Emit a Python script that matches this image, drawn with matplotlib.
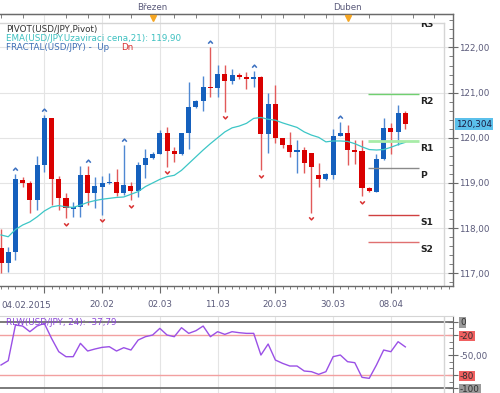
import numpy as np
import matplotlib
matplotlib.use("Agg")
import matplotlib.pyplot as plt
from matplotlib.ticker import MultipleLocator
from matplotlib.path import Path
from matplotlib.transforms import Bbox, TransformedBbox, blended_transform_factory

# ---------------- data ----------------
opens = [117.56, 117.22, 117.48, 119.06, 119.00, 118.62, 119.40, 120.44, 119.09, 118.67,
         118.43, 118.47, 119.17, 118.77, 118.92, 118.99, 119.03, 118.77, 118.94, 118.83,
         119.40, 119.56, 119.65, 120.10, 119.71, 119.64, 120.10, 120.69, 120.81, 121.13,
         121.11, 121.41, 121.26, 121.40, 121.34, 121.31, 121.35, 120.08, 120.74, 120.00,
         119.85, 119.69, 119.73, 119.67, 119.17, 119.09, 119.18, 120.04, 120.10, 119.74,
         119.70, 118.90, 118.81, 119.52, 120.21, 120.12, 120.54]
highs = [117.98, 117.59, 119.20, 119.14, 119.05, 119.60, 120.50, 120.44, 119.16, 118.77,
         118.58, 119.37, 119.37, 119.14, 119.15, 119.21, 119.32, 119.84, 119.03, 119.47,
         119.76, 119.68, 120.17, 120.23, 119.80, 120.10, 121.24, 120.83, 121.37, 122.01,
         121.61, 121.62, 121.53, 121.44, 121.46, 121.48, 121.36, 121.00, 121.17, 120.00,
         120.13, 119.95, 119.80, 119.67, 119.45, 119.22, 120.20, 120.35, 120.28, 119.95,
         119.95, 118.92, 119.65, 120.43, 120.32, 120.72, 120.59]
lows = [117.00, 117.02, 117.30, 118.92, 118.34, 118.40, 119.25, 118.51, 118.40, 118.22,
        118.24, 118.24, 118.51, 118.44, 118.29, 118.97, 118.72, 118.73, 118.62, 118.70,
        119.10, 119.54, 119.64, 119.36, 119.47, 119.62, 119.76, 120.67, 120.60, 120.91,
        120.91, 120.58, 121.20, 121.31, 121.09, 121.12, 119.28, 119.67, 119.89, 119.77,
        119.58, 119.21, 119.21, 118.34, 118.92, 119.07, 119.09, 120.04, 119.40, 119.43,
        118.71, 118.81, 118.80, 119.51, 119.64, 119.84, 120.20]
closes = [117.22, 117.48, 119.08, 118.99, 118.62, 119.40, 120.44, 119.09, 118.66, 118.44,
          118.46, 119.17, 118.77, 118.93, 118.99, 119.03, 118.78, 118.95, 118.83, 119.40,
          119.56, 119.65, 120.10, 119.71, 119.64, 120.10, 120.69, 120.81, 121.13, 121.10,
          121.41, 121.26, 121.39, 121.35, 121.31, 121.34, 120.08, 120.74, 119.99, 119.84,
          119.69, 119.73, 119.45, 119.36, 119.09, 119.20, 120.05, 120.10, 119.73, 119.69,
          118.90, 118.83, 119.52, 120.21, 120.12, 120.54, 120.30]
ema21 = [117.85, 117.81, 117.97, 118.07, 118.14, 118.25, 118.38, 118.47, 118.50, 118.47,
         118.46, 118.51, 118.57, 118.61, 118.64, 118.66, 118.68, 118.69, 118.75, 118.81,
         118.92, 119.00, 119.08, 119.14, 119.17, 119.28, 119.43, 119.58, 119.73, 119.87,
         120.00, 120.13, 120.22, 120.26, 120.32, 120.43, 120.45, 120.41, 120.39, 120.33,
         120.28, 120.23, 120.13, 120.06, 120.01, 119.91, 119.93, 119.93, 119.92, 119.87,
         119.80, 119.74, 119.73, 119.74, 119.79, 119.85, 119.90]
williams_r = [-65, -58.5, -5, -6.5, -15, -6.5, -2.5, -25, -45, -52.5,
              -52.5, -32.5, -44, -41, -38.5, -37.5, -44, -39, -42.5, -27.5,
              -22.5, -20, -10, -20, -22.5, -9, -17.5, -13.5, -6.5, -22.5,
              -15, -19, -15, -16.5, -17.5, -17.5, -50, -33.5, -57.5, -62.5,
              -66.5, -66.5, -74, -75, -79, -75, -52.5, -50, -60, -61.5,
              -83.5, -85, -65, -42.5, -45, -30, -37.8]
fractal_up = [2, 6, 12, 17, 29, 35, 47]
fractal_dn = [9, 14, 18, 23, 31, 36, 43, 50]

pivot_names = ["R3", "R2", "R1", "P", "S1", "S2"]
pivot_values = [122.68, 120.98, 119.93, 119.33, 118.29, 117.69]
pivot_colors = ["#70d070", "#70d070", "#a8eca8", "#8a8a8a", "#d04040", "#e07070"]
pivot_widths = [1.0, 1.0, 2.0, 1.0, 1.0, 1.0]

date_ticks = [6, 14, 22, 30, 38, 46, 54]
date_labels = ["", "20.02", "02.03", "11.03", "20.03", "30.03", "08.04"]
first_date = "04.02.2015"
month_pos = [21, 48]
month_labels = ["Březen", "Duben"]
price_ticks = [117, 118, 119, 120, 121, 122]
price_labels = ["117,00", "118,00", "119,00", "120,00", "121,00", "122,00"]
wr_ticks = [0, -20, -50, -80, -100]
wr_labels = ["0", "-20", "-50,00", "-80", "-100"]
last_price = 120.304

# ---------------- figure ----------------
W, H = 500, 393
fig = plt.figure(figsize=(W / 100, H / 100), dpi=100)
fig.patch.set_facecolor("white")

AXC = "#6a6a6a"
LBLC = "#5a5a7a"
FS = 6.3
xlim = (-1 / 7.22, 452 / 7.22)

ax = fig.add_axes([0, 1 - 286 / H, 453 / W, 272 / H])
ax.set_xlim(*xlim)
ax.set_ylim(116.72, 122.74)
ax.spines["left"].set_visible(False)
for s in ["top", "right", "bottom"]:
    ax.spines[s].set_color(AXC)
    ax.spines[s].set_linewidth(1.0)

ax.yaxis.tick_right()
ax.set_yticks(price_ticks)
ax.set_yticklabels(price_labels)
ax.yaxis.set_minor_locator(MultipleLocator(0.2))
ax.tick_params(axis="y", which="major", direction="inout", length=7, width=0.8,
               color=AXC, labelsize=FS, labelcolor=LBLC, pad=1)
ax.tick_params(axis="y", which="minor", direction="in", length=3, width=0.6, color=AXC)
ax.set_xticks(date_ticks)
ax.set_xticklabels(date_labels)
ax.xaxis.set_minor_locator(MultipleLocator(1))
ax.tick_params(axis="x", which="major", direction="out", length=5, width=0.8,
               color=AXC, labelsize=FS, labelcolor=LBLC, pad=5)
ax.tick_params(axis="x", which="minor", direction="out", length=2.5, width=0.6, color=AXC)
ax.grid(True, which="major", color="#e4e4e4", lw=0.8, zorder=0)
ax.set_axisbelow(True)

# top axis
sec = ax.secondary_xaxis("top")
sec.set_xticks(np.arange(0, 63, 3))
sec.set_xticklabels([])
sec.tick_params(direction="in", length=3, width=0.6, color=AXC)
sec.spines["top"].set_color(AXC)
bt = blended_transform_factory(ax.transData, ax.transAxes)
for p, lab in zip(month_pos, month_labels):
    ax.text(p, (286 - 7) / 272, lab, transform=bt, ha="center", va="center",
            fontsize=FS, color=LBLC, clip_on=False)
ax.plot(month_pos, [0.987] * len(month_pos), transform=bt, ls="none", marker="v",
        color="#f5a623", markersize=5, clip_on=False, zorder=6)

# inner frame
fx, fy = 444 / 453, (286 - 23) / 272
ax.plot([fx, fx], [0, fy], transform=ax.transAxes, color="#d5d5d5", lw=1, zorder=1)
ax.plot([0, fx], [fy, fy], transform=ax.transAxes, color="#d5d5d5", lw=1, zorder=1)
clipbox = TransformedBbox(Bbox([[0, 0], [fx, fy]]), ax.transAxes)

# candles
k = np.arange(len(closes))
o = np.array(opens); c = np.array(closes)
up = c >= o
body_blue, body_red = "#1560bd", "#d90000"
wick_blue, wick_red = "#4f88d2", "#e25a5a"
ax.vlines(k[up], np.array(lows)[up], np.array(highs)[up], color=wick_blue, lw=1, zorder=2)
ax.vlines(k[~up], np.array(lows)[~up], np.array(highs)[~up], color=wick_red, lw=1, zorder=2)
ax.bar(k[up], (c - o)[up], bottom=o[up], width=0.7, color=body_blue, lw=0, zorder=3)
ax.bar(k[~up], (c - o)[~up], bottom=o[~up], width=0.7, color=body_red, lw=0, zorder=3)

# EMA
ax.plot(k, ema21, color="#3cc6c6", lw=0.9, zorder=4)

# fractals
up_m = Path([(-1, -0.5), (0, 0.6), (1, -0.5)], [Path.MOVETO, Path.LINETO, Path.LINETO])
dn_m = Path([(-1, 0.5), (0, -0.6), (1, 0.5)], [Path.MOVETO, Path.LINETO, Path.LINETO])
ax.plot(fractal_up, [highs[i] + 0.11 for i in fractal_up], ls="none", marker=up_m,
        markersize=3.3, mfc="none", mec="#3a6fc0", mew=1.1, zorder=5)
ax.plot(fractal_dn, [lows[i] - 0.12 for i in fractal_dn], ls="none", marker=dn_m,
        markersize=3.3, mfc="none", mec="#d83030", mew=1.1, zorder=5)

# pivots
x0p, x1p = (368 - 1) / 7.22, (419 - 1) / 7.22
for name, val, col, lw in zip(pivot_names, pivot_values, pivot_colors, pivot_widths):
    ln = ax.hlines(val, x0p, x1p, color=col, lw=lw, zorder=4)
    ln.set_clip_box(clipbox)
    t = ax.text((420 - 1) / 7.22, val - 0.07, name, ha="left", va="top", fontsize=6.6,
                fontweight="bold", color="#222222", zorder=6, clip_on=True)
    t.set_clip_box(clipbox)

# legend texts
ax.text(6 / 453, (286 - 29) / 272, "PIVOT(USD/JPY,Pivot)", transform=ax.transAxes,
        fontsize=FS, color="#333333", va="center", ha="left")
ax.text(6 / 453, (286 - 38.5) / 272, "EMA(USD/JPY.Uzaviraci cena,21): 119,90",
        transform=ax.transAxes, fontsize=FS, color="#3cc0c0", va="center", ha="left")
ax.text(6 / 453, (286 - 48) / 272, "FRACTAL(USD/JPY) -  Up", transform=ax.transAxes,
        fontsize=FS, color="#3f6fb5", va="center", ha="left")
ax.text(121 / 453, (286 - 48) / 272, "Dn", transform=ax.transAxes,
        fontsize=FS, color="#d83030", va="center", ha="left")

# first date label and price box
ax.text(0.002, -(305 - 286) / 272, first_date, transform=ax.transAxes, ha="left",
        va="center", fontsize=FS, color=LBLC, clip_on=False)
rt = blended_transform_factory(ax.transAxes, ax.transData)
ax.text(456 / 453, last_price, "120,304", transform=rt, ha="left", va="center",
        fontsize=FS, color="#1a1a40", clip_on=False, zorder=7,
        bbox=dict(boxstyle="square,pad=0.15", fc="#5bc0eb", ec="none"))

# ---------------- Williams %R panel ----------------
ax2 = fig.add_axes([0, 0, 453 / W, 77 / H])
ax2.set_xlim(*xlim)
ax2.set_ylim(-107, 8.56)
ax2.spines["left"].set_visible(False)
ax2.spines["bottom"].set_visible(False)
ax2.spines["top"].set_color("#d5d5d5")
ax2.spines["right"].set_color(AXC)
ax2.set_xticks(date_ticks)
ax2.tick_params(axis="x", which="both", bottom=False, labelbottom=False)
ax2.grid(True, axis="x", color="#e4e4e4", lw=0.8)
ax2.set_axisbelow(True)
ax2.yaxis.tick_right()
ax2.set_yticks(wr_ticks)
ax2.set_yticklabels(wr_labels)
ax2.yaxis.set_minor_locator(MultipleLocator(10))
ax2.tick_params(axis="y", which="major", direction="inout", length=7, width=0.8,
                color=AXC, labelsize=FS, labelcolor="#303030", pad=1.5)
ax2.tick_params(axis="y", which="minor", direction="in", length=3, width=0.6, color=AXC)
box_cols = {"0": "#9a9a9a", "-20": "#f06060", "-80": "#f06060", "-100": "#9a9a9a"}
for lbl in ax2.get_yticklabels():
    txt = lbl.get_text()
    if txt in box_cols:
        lbl.set_bbox(dict(boxstyle="square,pad=0.1", fc=box_cols[txt], ec="none"))
    else:
        lbl.set_color(LBLC)
ax2.axhline(0, color="#707070", lw=1.3, zorder=1)
ax2.axhline(-100, color="#707070", lw=1.3, zorder=1)
ax2.axhline(-20, color="#f2a0a0", lw=1, zorder=1)
ax2.axhline(-80, color="#f2a0a0", lw=1, zorder=1)
ax2.plot([fx, fx], [0, 1], transform=ax2.transAxes, color="#d5d5d5", lw=1, zorder=1)
ax2.plot(k, williams_r, color="#9a50e6", lw=1, zorder=3)
ax2.text(6 / 453, 1 - (322.5 - 316) / 77, "RLW(USD/JPY, 24): -37,79", transform=ax2.transAxes,
         fontsize=FS, color="#8a45d8", va="center", ha="left", zorder=4)

fig.savefig("out.png", dpi=100)
